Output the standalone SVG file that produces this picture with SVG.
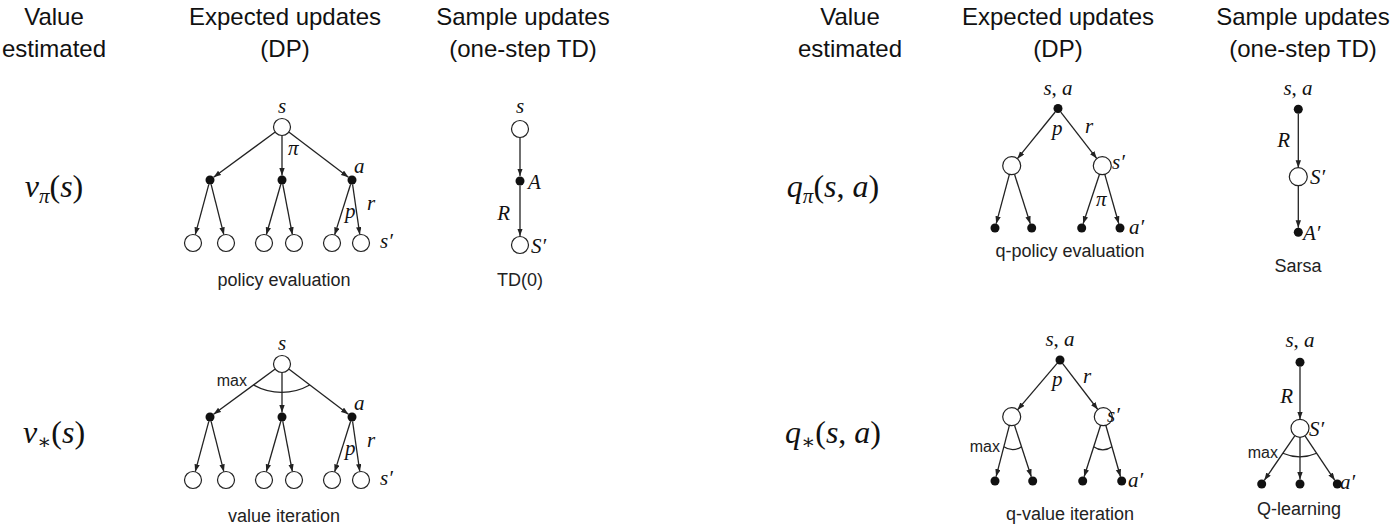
<svg xmlns="http://www.w3.org/2000/svg" width="1393" height="530" viewBox="0 0 1393 530">
<style>
.hd{font-family:"Liberation Sans",Arial,sans-serif;font-size:24px;fill:#111;text-anchor:middle}
.cap{font-family:"Liberation Sans",Arial,sans-serif;font-size:18px;fill:#222;text-anchor:middle}
.mx{font-family:"Liberation Sans",Arial,sans-serif;font-size:16px;fill:#222;text-anchor:end}
.m{font-family:"Liberation Serif","DejaVu Serif",serif;font-style:italic;font-size:21px;fill:#111}
.big{font-family:"Liberation Serif","DejaVu Serif",serif;font-style:italic;font-size:32px;fill:#111;text-anchor:middle}
.up{font-style:normal}
.st{fill:#fff;stroke:#222;stroke-width:1.2}
.ac{fill:#111}
.e line{stroke:#222;stroke-width:1.3;marker-end:url(#ah)}
.arc{fill:none;stroke:#222;stroke-width:1.2}
</style>
<defs>
<marker id="ah" markerUnits="userSpaceOnUse" markerWidth="9" markerHeight="6" refX="7.5" refY="2.7" orient="auto">
<path d="M0,0 L7.5,2.7 L0,5.4 z" fill="#222"/>
</marker>
</defs>
<rect width="1393" height="530" fill="#fff"/>

<g id="headers">
<text class="hd" x="54" y="25">Value</text><text class="hd" x="54" y="57">estimated</text>
<text class="hd" x="285" y="25">Expected updates</text><text class="hd" x="285" y="57">(DP)</text>
<text class="hd" x="523" y="25">Sample updates</text><text class="hd" x="523" y="57">(one-step TD)</text>
<text class="hd" x="850" y="25">Value</text><text class="hd" x="850" y="57">estimated</text>
<text class="hd" x="1058" y="25">Expected updates</text><text class="hd" x="1058" y="57">(DP)</text>
<text class="hd" x="1303" y="25">Sample updates</text><text class="hd" x="1303" y="57">(one-step TD)</text>
</g>

<g id="row-labels">
<text class="big" x="54" y="197">v<tspan font-size="21" dy="6">π</tspan><tspan class="up" dy="-6">(</tspan>s<tspan class="up">)</tspan></text>
<text class="big" x="54" y="443">v<tspan font-size="21" dy="6" class="up">∗</tspan><tspan class="up" dy="-6">(</tspan>s<tspan class="up">)</tspan></text>
<text class="big" x="833" y="197">q<tspan font-size="21" dy="6">π</tspan><tspan class="up" dy="-6">(</tspan>s<tspan class="up">,</tspan> a<tspan class="up">)</tspan></text>
<text class="big" x="833" y="443">q<tspan font-size="21" dy="6" class="up">∗</tspan><tspan class="up" dy="-6">(</tspan>s<tspan class="up">,</tspan> a<tspan class="up">)</tspan></text>
</g>

<!-- Panel: policy evaluation -->
<g id="policy-evaluation">
<g id="pe-connectors" class="e">
<line x1="275.2" y1="132" x2="213.6" y2="177.3"/>
<line x1="282" y1="135.5" x2="282" y2="175.5"/>
<line x1="288.8" y1="132.1" x2="348.4" y2="177.3"/>
<line x1="208.8" y1="184.3" x2="195.2" y2="234.8"/>
<line x1="211.1" y1="184.4" x2="223.9" y2="234.8"/>
<line x1="280.8" y1="184.3" x2="266.3" y2="234.8"/>
<line x1="282.8" y1="184.4" x2="292.4" y2="234.7"/>
<line x1="350.6" y1="184.3" x2="334.6" y2="234.9"/>
<line x1="352.6" y1="184.5" x2="359.8" y2="234.6"/>
</g>
<g id="pe-s"><circle class="st" cx="282" cy="127" r="8.5"/><text class="m" x="282" y="113" text-anchor="middle">s</text></g>
<g id="pe-a1"><circle class="ac" cx="210" cy="180" r="4.5"/></g>
<g id="pe-a2"><circle class="ac" cx="282" cy="180" r="4.5"/></g>
<g id="pe-a3"><circle class="ac" cx="352" cy="180" r="4.5"/><text class="m" x="354" y="173">a</text></g>
<g id="pe-s1"><circle class="st" cx="193" cy="243" r="8.5"/></g>
<g id="pe-s2"><circle class="st" cx="226" cy="243" r="8.5"/></g>
<g id="pe-s3"><circle class="st" cx="264" cy="243" r="8.5"/></g>
<g id="pe-s4"><circle class="st" cx="294" cy="243" r="8.5"/></g>
<g id="pe-s5"><circle class="st" cx="332" cy="243" r="8.5"/></g>
<g id="pe-s6"><circle class="st" cx="361" cy="243" r="8.5"/><text class="m" x="380" y="248">s′</text></g>
<g id="pe-labels"><text class="m" x="288" y="155">π</text><text class="m" x="345" y="218">p</text><text class="m" x="367" y="210">r</text></g>
<text class="cap" x="284" y="286">policy evaluation</text>
</g>

<!-- Panel: value iteration -->
<g id="value-iteration" transform="translate(0,237)">
<g id="vi-connectors" class="e">
<line x1="275.2" y1="132" x2="213.6" y2="177.3"/>
<line x1="282" y1="135.5" x2="282" y2="175.5"/>
<line x1="288.8" y1="132.1" x2="348.4" y2="177.3"/>
<line x1="208.8" y1="184.3" x2="195.2" y2="234.8"/>
<line x1="211.1" y1="184.4" x2="223.9" y2="234.8"/>
<line x1="280.8" y1="184.3" x2="266.3" y2="234.8"/>
<line x1="282.8" y1="184.4" x2="292.4" y2="234.7"/>
<line x1="350.6" y1="184.3" x2="334.6" y2="234.9"/>
<line x1="352.6" y1="184.5" x2="359.8" y2="234.6"/>
</g>
<path class="arc" d="M253.5,148 A57,57 0 0 0 309.7,148"/>
<text class="mx" x="247" y="149">max</text>
<g id="vi-s"><circle class="st" cx="282" cy="127" r="8.5"/><text class="m" x="282" y="113" text-anchor="middle">s</text></g>
<g id="vi-a1"><circle class="ac" cx="210" cy="180" r="4.5"/></g>
<g id="vi-a2"><circle class="ac" cx="282" cy="180" r="4.5"/></g>
<g id="vi-a3"><circle class="ac" cx="352" cy="180" r="4.5"/><text class="m" x="354" y="173">a</text></g>
<g id="vi-s1"><circle class="st" cx="193" cy="243" r="8.5"/></g>
<g id="vi-s2"><circle class="st" cx="226" cy="243" r="8.5"/></g>
<g id="vi-s3"><circle class="st" cx="264" cy="243" r="8.5"/></g>
<g id="vi-s4"><circle class="st" cx="294" cy="243" r="8.5"/></g>
<g id="vi-s5"><circle class="st" cx="332" cy="243" r="8.5"/></g>
<g id="vi-s6"><circle class="st" cx="361" cy="243" r="8.5"/><text class="m" x="380" y="248">s′</text></g>
<g id="vi-labels"><text class="m" x="345" y="218">p</text><text class="m" x="367" y="210">r</text></g>
<text class="cap" x="284" y="285">value iteration</text>
</g>

<!-- Panel: TD(0) -->
<g id="td0">
<g id="td-connectors" class="e">
<line x1="520" y1="137.5" x2="520" y2="176"/>
<line x1="520" y1="185.5" x2="520" y2="236"/>
</g>
<g id="td-s"><circle class="st" cx="520" cy="129" r="8.5"/><text class="m" x="520" y="113" text-anchor="middle">s</text></g>
<g id="td-A"><circle class="ac" cx="520" cy="181" r="4.5"/><text class="m" x="528" y="189">A</text></g>
<g id="td-S1"><circle class="st" cx="520" cy="245" r="8.5"/><text class="m" x="531" y="253">S′</text></g>
<text class="m" x="510" y="220" text-anchor="end">R</text>
<text class="cap" x="520" y="286">TD(0)</text>
</g>

<!-- Panel: q-policy evaluation -->
<g id="q-policy-evaluation">
<g id="qpe-connectors" class="e">
<line x1="1055.2" y1="112" x2="1017.4" y2="158.7"/>
<line x1="1060.8" y1="112.1" x2="1096.8" y2="158.6"/>
<line x1="1009.4" y1="174.4" x2="996.2" y2="223.7"/>
<line x1="1014.5" y1="174.3" x2="1030.3" y2="223.7"/>
<line x1="1099.5" y1="174.2" x2="1083.1" y2="223.7"/>
<line x1="1104.8" y1="174.4" x2="1118.8" y2="223.7"/>
</g>
<g id="qpe-sa"><circle class="ac" cx="1058" cy="108.5" r="4.5"/><text class="m" x="1058" y="95" text-anchor="middle">s<tspan class="up">,</tspan> a</text></g>
<g id="qpe-s1"><circle class="st" cx="1011.7" cy="165.7" r="9"/></g>
<g id="qpe-s2"><circle class="st" cx="1102.3" cy="165.7" r="9"/><text class="m" x="1112" y="169">s′</text></g>
<g id="qpe-a1"><circle class="ac" cx="995" cy="228" r="4.5"/></g>
<g id="qpe-a2"><circle class="ac" cx="1031.7" cy="228" r="4.5"/></g>
<g id="qpe-a3"><circle class="ac" cx="1081.7" cy="228" r="4.5"/></g>
<g id="qpe-a4"><circle class="ac" cx="1120" cy="228" r="4.5"/><text class="m" x="1129" y="234">a′</text></g>
<g id="qpe-labels"><text class="m" x="1052" y="135">p</text><text class="m" x="1085" y="133">r</text><text class="m" x="1096" y="206">π</text></g>
<text class="cap" x="1070" y="257">q-policy evaluation</text>
</g>

<!-- Panel: q-value iteration -->
<g id="q-value-iteration">
<g id="qvi-connectors" class="e">
<line x1="1057.1" y1="363.4" x2="1017.5" y2="409.9"/>
<line x1="1062.7" y1="363.6" x2="1097.8" y2="409.5"/>
<line x1="1009.4" y1="425.4" x2="996.1" y2="476.6"/>
<line x1="1014.5" y1="425.3" x2="1031.3" y2="476.7"/>
<line x1="1100.6" y1="425.3" x2="1084.1" y2="476.7"/>
<line x1="1105.8" y1="425.3" x2="1120.5" y2="476.7"/>
</g>
<path class="arc" d="M1003.9,446.7 A15,15 0 0 0 1021.5,446.7"/>
<path class="arc" d="M1093.7,446.7 A15,15 0 0 0 1111.9,446.7"/>
<text class="mx" x="1000" y="452">max</text>
<g id="qvi-sa"><circle class="ac" cx="1060" cy="360" r="4.5"/><text class="m" x="1060" y="346" text-anchor="middle">s<tspan class="up">,</tspan> a</text></g>
<g id="qvi-s1"><circle class="st" cx="1011.7" cy="416.7" r="9"/></g>
<g id="qvi-s2"><circle class="st" cx="1103.3" cy="416.7" r="9"/><text class="m" x="1107" y="422">s′</text></g>
<g id="qvi-a1"><circle class="ac" cx="995" cy="481" r="4.5"/></g>
<g id="qvi-a2"><circle class="ac" cx="1032.7" cy="481" r="4.5"/></g>
<g id="qvi-a3"><circle class="ac" cx="1082.7" cy="481" r="4.5"/></g>
<g id="qvi-a4"><circle class="ac" cx="1121.7" cy="481" r="4.5"/><text class="m" x="1128" y="487">a′</text></g>
<g id="qvi-labels"><text class="m" x="1052" y="386">p</text><text class="m" x="1083" y="383">r</text></g>
<text class="cap" x="1070" y="520">q-value iteration</text>
</g>

<!-- Panel: Sarsa -->
<g id="sarsa">
<g id="sarsa-connectors" class="e">
<line x1="1298.3" y1="113.8" x2="1298.3" y2="167.7"/>
<line x1="1298.3" y1="185.7" x2="1298.3" y2="227.8"/>
</g>
<g id="sarsa-sa"><circle class="ac" cx="1298.3" cy="109.3" r="4.5"/><text class="m" x="1298" y="95" text-anchor="middle">s<tspan class="up">,</tspan> a</text></g>
<g id="sarsa-S"><circle class="st" cx="1298.3" cy="176.7" r="9"/><text class="m" x="1310" y="184">S′</text></g>
<g id="sarsa-A"><circle class="ac" cx="1298.3" cy="232.3" r="4.5"/><text class="m" x="1303" y="240">A′</text></g>
<text class="m" x="1290" y="147" text-anchor="end">R</text>
<text class="cap" x="1298" y="272">Sarsa</text>
</g>

<!-- Panel: Q-learning -->
<g id="q-learning">
<g id="ql-connectors" class="e">
<line x1="1300" y1="366.8" x2="1300" y2="419.3"/>
<line x1="1294.9" y1="435.7" x2="1264.3" y2="480.3"/>
<line x1="1300" y1="437.3" x2="1300" y2="479.5"/>
<line x1="1305" y1="435.8" x2="1334.8" y2="480.3"/>
</g>
<path class="arc" d="M1282.8,453.3 A43,43 0 0 0 1316.7,453.3"/>
<text class="mx" x="1278" y="458">max</text>
<g id="ql-sa"><circle class="ac" cx="1300" cy="362.3" r="4.5"/><text class="m" x="1300" y="347" text-anchor="middle">s<tspan class="up">,</tspan> a</text></g>
<g id="ql-S"><circle class="st" cx="1300" cy="428.3" r="9"/><text class="m" x="1309" y="436">S′</text></g>
<g id="ql-a1"><circle class="ac" cx="1261.7" cy="484" r="4.5"/></g>
<g id="ql-a2"><circle class="ac" cx="1300" cy="484" r="4.5"/></g>
<g id="ql-a3"><circle class="ac" cx="1337.3" cy="484" r="4.5"/><text class="m" x="1340" y="489">a′</text></g>
<text class="m" x="1293" y="403" text-anchor="end">R</text>
<text class="cap" x="1299" y="515">Q-learning</text>
</g>
</svg>
